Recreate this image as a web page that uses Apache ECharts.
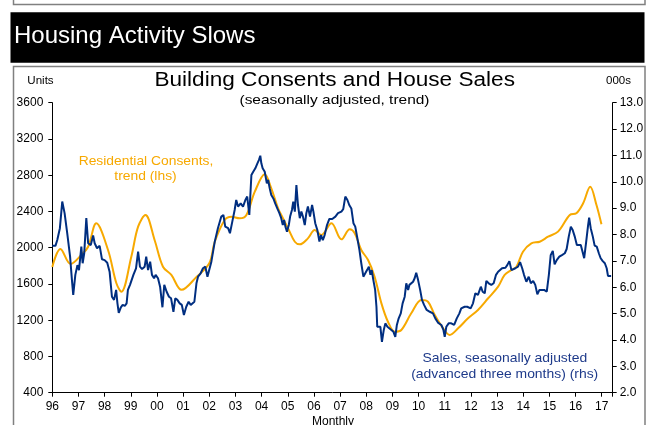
<!DOCTYPE html>
<html>
<head>
<meta charset="utf-8">
<script src="https://cdn.jsdelivr.net/npm/echarts@6/dist/echarts.min.js"></script>
<style>
html,body{margin:0;padding:0;background:#fff;}
#chart{width:654px;height:425px;}
</style>
</head>
<body>
<div id="chart"></div>
<script>
// ---- Data ----
// Residential consents, trend (lhs, units) - decimal year / value
var consentYears = [1996.00,1996.31,1996.70,1997.11,1997.37,1997.68,1998.13,1998.45,1998.64,1999.02,1999.28,1999.56,1999.91,2000.23,2000.55,2000.94,2001.52,2002.00,2002.21,2002.59,2002.84,2003.16,2003.42,2003.74,2004.12,2004.37,2004.63,2004.82,2005.01,2005.27,2005.46,2005.77,2006.03,2006.28,2006.67,2007.05,2007.37,2007.56,2007.81,2008.07,2008.32,2008.58,2008.83,2009.09,2009.34,2009.72,2010.11,2010.36,2010.62,2010.94,2011.19,2011.51,2011.89,2012.27,2012.66,2013.04,2013.29,2013.55,2013.74,2013.99,2014.31,2014.63,2014.95,2015.33,2015.78,2016.03,2016.29,2016.56,2016.80,2016.99];
var consentUnits = [1787,1985,1820,1920,2010,2269,1975,1607,1514,1901,2232,2361,2085,1790,1699,1535,1680,1828,2066,2306,2342,2324,2361,2618,2810,2655,2435,2324,2214,2066,2037,2103,2195,2140,2269,2092,2203,2159,1975,1864,1680,1386,1183,1073,1092,1276,1423,1404,1257,1110,1037,1110,1221,1313,1442,1570,1699,1754,1790,1956,2048,2066,2121,2177,2361,2379,2490,2673,2471,2258];

// House sales, seasonally adjusted, advanced three months (rhs, 000s)
var salesYears = [1996.00,1996.12,1996.19,1996.29,1996.38,1996.47,1996.57,1996.68,1996.75,1996.80,1996.88,1996.96,1997.02,1997.11,1997.16,1997.22,1997.30,1997.37,1997.47,1997.56,1997.62,1997.71,1997.81,1997.90,1998.00,1998.10,1998.19,1998.28,1998.36,1998.44,1998.49,1998.54,1998.62,1998.69,1998.77,1998.84,1998.89,1998.97,1999.10,1999.20,1999.28,1999.35,1999.43,1999.53,1999.59,1999.66,1999.74,1999.81,1999.89,1999.95,2000.04,2000.12,2000.21,2000.28,2000.37,2000.46,2000.54,2000.63,2000.70,2000.78,2000.87,2000.95,2001.03,2001.12,2001.21,2001.29,2001.43,2001.51,2001.57,2001.67,2001.76,2001.85,2001.93,2001.99,2002.08,2002.21,2002.33,2002.46,2002.54,2002.61,2002.72,2002.79,2002.88,2002.97,2003.03,2003.10,2003.20,2003.29,2003.38,2003.45,2003.53,2003.61,2003.68,2003.76,2003.84,2003.90,2003.95,2003.99,2004.04,2004.12,2004.20,2004.25,2004.31,2004.37,2004.45,2004.52,2004.60,2004.68,2004.75,2004.81,2004.86,2004.91,2004.97,2005.04,2005.09,2005.16,2005.21,2005.27,2005.33,2005.39,2005.46,2005.52,2005.58,2005.65,2005.71,2005.77,2005.85,2005.93,2005.98,2006.05,2006.13,2006.21,2006.27,2006.34,2006.41,2006.50,2006.59,2006.70,2006.82,2006.92,2007.05,2007.12,2007.20,2007.28,2007.35,2007.43,2007.51,2007.58,2007.66,2007.74,2007.81,2007.89,2007.95,2008.03,2008.10,2008.16,2008.21,2008.27,2008.34,2008.39,2008.42,2008.48,2008.54,2008.60,2008.67,2008.73,2008.81,2008.87,2008.96,2009.04,2009.11,2009.17,2009.24,2009.32,2009.39,2009.47,2009.53,2009.60,2009.65,2009.72,2009.79,2009.85,2009.91,2009.98,2010.06,2010.13,2010.21,2010.31,2010.43,2010.55,2010.64,2010.74,2010.87,2010.95,2011.00,2011.06,2011.15,2011.25,2011.36,2011.46,2011.56,2011.63,2011.76,2011.86,2011.99,2012.08,2012.17,2012.27,2012.38,2012.45,2012.53,2012.59,2012.68,2012.78,2012.87,2012.96,2013.04,2013.11,2013.19,2013.24,2013.32,2013.39,2013.47,2013.55,2013.62,2013.70,2013.80,2013.88,2013.96,2014.03,2014.12,2014.21,2014.29,2014.38,2014.46,2014.54,2014.62,2014.69,2014.80,2014.90,2014.98,2015.05,2015.13,2015.20,2015.28,2015.38,2015.48,2015.59,2015.66,2015.74,2015.82,2015.89,2015.97,2016.05,2016.12,2016.20,2016.25,2016.33,2016.40,2016.48,2016.52,2016.58,2016.66,2016.73,2016.81,2016.89,2016.96,2017.04,2017.12,2017.19,2017.24,2017.32,2017.36];
var salesK = [7.57,7.57,7.79,8.24,9.25,8.81,8.05,7.16,6.28,5.71,6.47,6.84,6.65,7.54,6.91,7.29,8.62,7.67,7.60,7.96,7.67,7.48,7.57,7.06,7.03,6.93,6.59,5.64,5.52,5.90,5.39,5.03,5.24,5.33,5.29,5.39,5.90,6.09,6.47,6.72,7.35,6.78,6.69,6.78,7.16,6.65,6.97,6.47,6.34,6.47,6.34,6.02,5.24,6.09,5.83,5.64,5.58,5.07,5.58,5.52,5.39,5.33,4.95,5.26,5.45,5.33,5.45,6.15,6.40,6.53,6.72,6.78,6.40,6.34,6.97,7.73,8.24,8.68,8.74,8.30,8.24,8.05,8.49,8.93,9.31,9.06,9.18,9.06,9.31,9.44,8.74,10.26,10.38,10.51,10.70,10.83,10.99,10.70,10.51,10.38,9.94,10.07,9.75,9.50,9.37,9.18,8.99,8.81,8.62,8.36,8.55,8.30,8.11,8.36,8.68,8.93,9.25,8.87,9.88,9.12,8.62,8.87,8.68,8.36,8.81,9.06,8.68,9.12,8.87,8.43,8.17,7.73,7.98,7.79,7.98,8.36,8.59,8.59,8.68,8.81,8.87,8.96,9.44,9.31,9.12,8.99,8.43,8.30,7.86,7.41,6.91,6.40,6.38,6.65,6.78,6.47,6.65,6.28,5.90,5.26,4.50,4.44,4.50,3.93,4.38,4.63,4.50,4.53,4.38,4.31,4.12,4.57,4.82,5.01,5.39,5.64,6.15,5.90,6.09,6.09,6.21,6.34,6.55,6.28,5.90,5.52,5.33,5.14,5.07,5.01,4.82,4.66,4.57,4.38,4.12,4.50,4.63,4.63,4.57,4.82,5.01,5.20,5.26,5.26,5.20,5.39,5.77,5.71,6.02,5.83,5.77,6.24,6.15,6.09,6.15,6.47,6.59,6.53,6.72,6.78,6.74,6.84,6.99,6.65,6.59,6.72,6.78,6.95,6.72,6.47,6.21,6.40,6.15,6.24,6.09,5.73,5.90,5.96,5.90,5.83,6.47,7.22,7.38,6.87,7.03,7.16,7.22,7.29,7.45,7.92,8.30,8.17,7.92,7.60,7.67,7.60,7.41,7.10,7.67,8.36,8.64,8.24,7.92,7.58,7.54,7.29,7.10,6.99,6.91,6.72,6.43,6.43,6.43];

// Axis settings
var yearStart = 1996, yearEnd = 2017.42;
var leftMin = 400, leftMax = 3600, leftStep = 400;
var rightMin = 2, rightMax = 13, rightStep = 1;

var ORANGE = '#F7A900';
var NAVY = '#002E80';
var NAVY_TEXT = '#1E3A8A';
var FONT = '"Liberation Sans", Arial, Helvetica, sans-serif';

var consentData = consentYears.map(function (t, i) { return [t, consentUnits[i]]; });
var salesData = salesYears.map(function (t, i) { return [t, salesK[i]]; });

function txt(x, y, text, size, color, align, sx) {
  return {
    type: 'text', x: x, y: y, scaleX: sx || 1, scaleY: 1, z: 10,
    style: {
      text: text, fill: color, fontSize: size, fontFamily: FONT,
      align: align, textAlign: align,
      verticalAlign: 'middle', textVerticalAlign: 'middle'
    }
  };
}

var chart = echarts.init(document.getElementById('chart'), null, { renderer: 'canvas' });
chart.setOption({
  backgroundColor: '#ffffff',
  animation: false,
  grid: { left: 52.3, right: 41.3, top: 102.7, bottom: 32.3, containLabel: false },
  xAxis: {
    type: 'value', min: yearStart, max: yearEnd, interval: 1,
    axisLine: { show: true, lineStyle: { color: '#000', width: 1 } },
    axisTick: { show: true, length: 4, lineStyle: { color: '#000' } },
    splitLine: { show: false },
    axisLabel: {
      color: '#000', fontSize: 12, fontFamily: FONT, margin: 8,
      formatter: function (v) {
        if (Math.abs(v - Math.round(v)) > 1e-6) return '';
        var s = String(Math.round(v) % 100);
        return s.length < 2 ? '0' + s : s;
      }
    }
  },
  yAxis: [
    {
      type: 'value', position: 'left', min: leftMin, max: leftMax, interval: leftStep,
      axisLine: { show: true, lineStyle: { color: '#000', width: 1 } },
      axisTick: { show: true, length: 4, lineStyle: { color: '#000' } },
      splitLine: { show: false },
      axisLabel: { color: '#000', fontSize: 12, fontFamily: FONT, margin: 9,
        formatter: function (v) { return String(Math.round(v)); } }
    },
    {
      type: 'value', position: 'right', min: rightMin, max: rightMax, interval: rightStep,
      axisLine: { show: true, lineStyle: { color: '#000', width: 1 } },
      axisTick: { show: true, length: 4, lineStyle: { color: '#000' } },
      splitLine: { show: false },
      axisLabel: { color: '#000', fontSize: 12, fontFamily: FONT, margin: 7,
        formatter: function (v) { return v.toFixed(1); } }
    }
  ],
  series: [
    {
      name: 'Residential Consents, trend (lhs)', type: 'line', yAxisIndex: 0,
      data: consentData, smooth: 0.35, showSymbol: false, symbol: 'none',
      lineStyle: { color: ORANGE, width: 2 }, z: 3
    },
    {
      name: 'Sales, seasonally adjusted (advanced three months) (rhs)', type: 'line', yAxisIndex: 1,
      data: salesData, smooth: false, showSymbol: false, symbol: 'none',
      lineStyle: { color: NAVY, width: 2 }, z: 4
    }
  ],
  graphic: [
    { type: 'polyline', z: 1, shape: { points: [[13.5, 0], [13.5, 4.5], [645, 4.5], [645, 0]] },
      style: { stroke: '#808080', lineWidth: 1.5, fill: null } },
    { type: 'rect', z: 1, shape: { x: 10.5, y: 12.3, width: 634, height: 50.4 }, style: { fill: '#000' } },
    { type: 'rect', z: 1, shape: { x: 13.5, y: 66.5, width: 631.5, height: 420 },
      style: { stroke: '#808080', lineWidth: 1.5, fill: null } },
    txt(14, 36, 'Housing Activity Slows', 24, '#fff', 'left'),
    txt(334.7, 80.3, 'Building Consents and House Sales', 20, '#000', 'center', 1.13),
    txt(334.5, 100, '(seasonally adjusted, trend)', 13, '#000', 'center', 1.19),
    txt(27.3, 81.3, 'Units', 11, '#000', 'left', 1.05),
    txt(606, 81.3, '000s', 11.5, '#000', 'left', 1.0),
    txt(146, 161.6, 'Residential Consents,', 13, ORANGE, 'center', 1.065),
    txt(145.5, 176.3, 'trend (lhs)', 13, ORANGE, 'center', 1.065),
    txt(504.8, 358.3, 'Sales, seasonally adjusted', 13, NAVY_TEXT, 'center', 1.07),
    txt(504.7, 374, '(advanced three months) (rhs)', 13, NAVY_TEXT, 'center', 1.07),
    txt(333, 421.5, 'Monthly', 12, '#000', 'center', 1.0)
  ]
});
</script>
</body>
</html>
